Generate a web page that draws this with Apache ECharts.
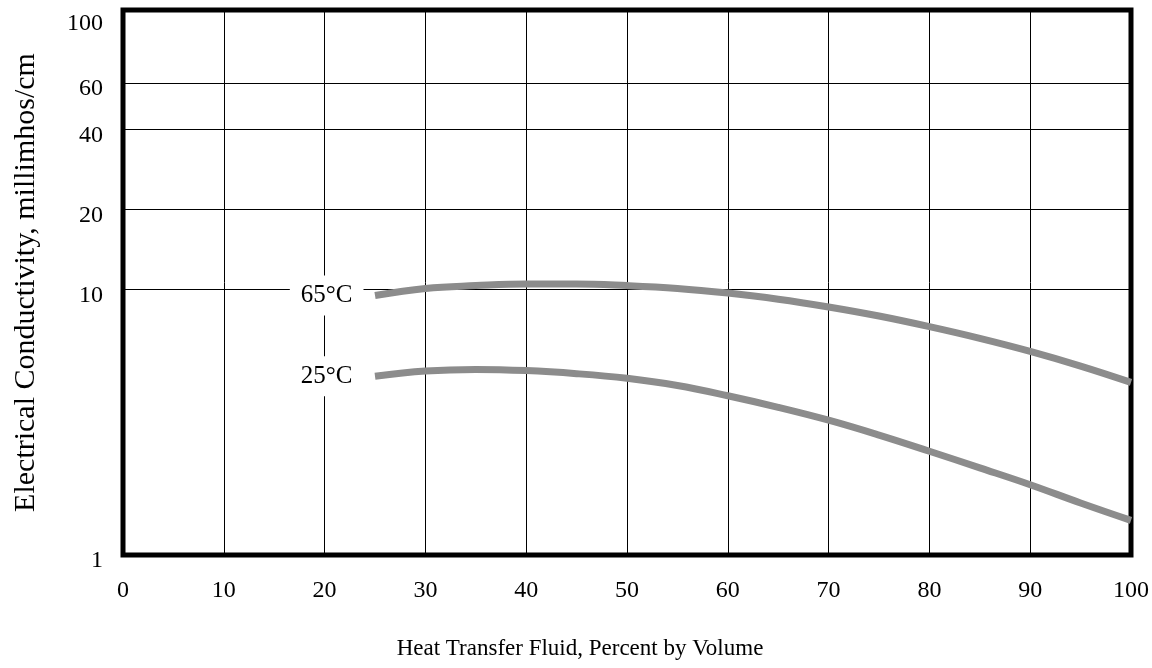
<!DOCTYPE html>
<html>
<head>
<meta charset="utf-8">
<script src="https://cdn.jsdelivr.net/npm/echarts@6/dist/echarts.min.js"></script>
<style>html,body{margin:0;padding:0;background:#fff}#c{width:1152px;height:668px}</style>
</head>
<body>
<div id="c"></div>
<script>
const xValues = [25, 30, 35, 40, 45, 50, 55, 60, 65, 70, 75, 80, 85, 90, 95, 100];
const hot65 = [9.5, 10.1, 10.35, 10.5, 10.5, 10.35, 10.1, 9.7, 9.2, 8.6, 7.95, 7.25, 6.55, 5.85, 5.15, 4.47];
const cold25 = [4.71, 4.93, 5.0, 4.95, 4.82, 4.63, 4.35, 3.98, 3.6, 3.22, 2.83, 2.46, 2.13, 1.84, 1.57, 1.35];
const yTickLabels = [1, 10, 20, 40, 60, 100];
const yGridValues = [10, 20, 40, 60];
const seriesNames = ['65°C', '25°C'];

const FONT = 'Liberation Serif';

function buildData(xs, ys, name) {
  return xs.map((x, i) => i === 0 ? {
    value: [x, ys[i]],
    label: {
      show: true, position: 'left', distance: 11, formatter: name,
      fontFamily: FONT, fontSize: 25, color: '#000',
      backgroundColor: '#fff', padding: [8, 11, 7, 11]
    }
  } : [x, ys[i]]);
}

const chart = echarts.init(document.getElementById('c'), null, {renderer: 'canvas'});
chart.setOption({
  animation: false,
  backgroundColor: '#fff',
  grid: {left: 123, right: 21, top: 10, bottom: 113, show: true, borderColor: '#000', borderWidth: 5, backgroundColor: 'transparent'},
  xAxis: {
    type: 'value', min: 0, max: 100, interval: 10,
    axisLine: {show: false}, axisTick: {show: false},
    splitLine: {show: true, lineStyle: {color: '#000', width: 1}},
    axisLabel: {fontFamily: FONT, fontSize: 24, color: '#000', margin: 24},
    name: 'Heat Transfer Fluid, Percent by Volume',
    nameLocation: 'middle', nameGap: 82,
    nameTextStyle: {fontFamily: FONT, fontSize: 23, color: '#000', padding: [0, 94, 0, 0]}
  },
  yAxis: {
    type: 'log', logBase: 10, min: 1, max: 113,
    axisLine: {show: false},
    axisTick: {show: false, customValues: yGridValues},
    splitLine: {show: true, lineStyle: {color: '#000', width: 1}},
    axisLabel: {
      customValues: yTickLabels, fontFamily: FONT, fontSize: 24, color: '#000', margin: 20,
      formatter: v => (Math.round(v) === 100 ? '{t|100}' : '{n|' + Math.round(v) + '}'),
      rich: {
        t: {fontFamily: FONT, fontSize: 24, color: '#000', padding: [0, 0, 0, 0]},
        n: {fontFamily: FONT, fontSize: 24, color: '#000', padding: [12, 0, 0, 0]}
      }
    },
    name: 'Electrical Conductivity, millimhos/cm',
    nameLocation: 'middle', nameGap: 82,
    nameTextStyle: {fontFamily: FONT, fontSize: 30, color: '#000'}
  },
  series: [
    {
      name: seriesNames[0], type: 'line', smooth: 0.4, symbol: 'circle', symbolSize: 1, showSymbol: true,
      itemStyle: {color: 'rgba(0,0,0,0)'},
      lineStyle: {color: '#8c8c8c', width: 7, cap: 'butt'},
      data: buildData(xValues, hot65, seriesNames[0]), z: 3
    },
    {
      name: seriesNames[1], type: 'line', smooth: 0.4, symbol: 'circle', symbolSize: 1, showSymbol: true,
      itemStyle: {color: 'rgba(0,0,0,0)'},
      lineStyle: {color: '#8c8c8c', width: 7, cap: 'butt'},
      data: buildData(xValues, cold25, seriesNames[1]), z: 3
    }
  ]
});
</script>
</body>
</html>
